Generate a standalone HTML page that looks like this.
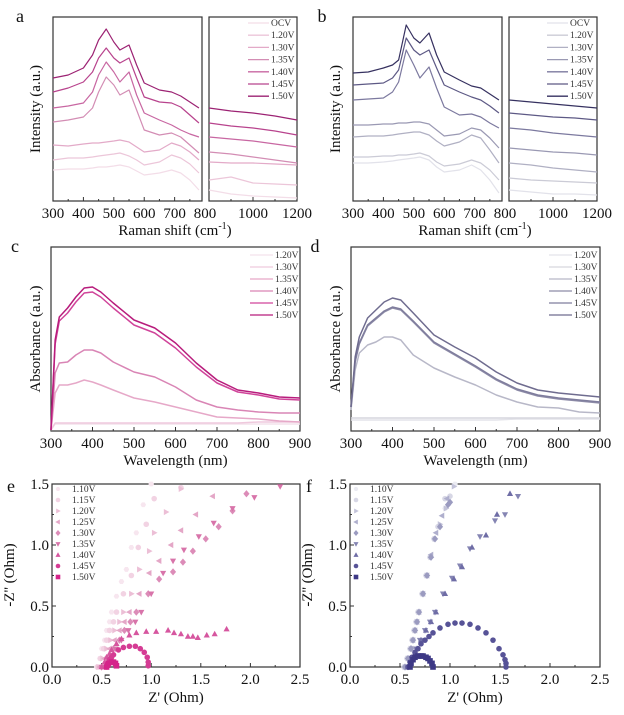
<!DOCTYPE html>
<html><head><meta charset="utf-8"><style>
html,body{margin:0;padding:0;background:#fff;}
svg, svg text{font-family:"Liberation Serif","DejaVu Serif",serif;}
</style></head><body>
<svg id="fig" width="624" height="710" viewBox="0 0 624 710" font-family="Liberation Serif, serif" xmlns="http://www.w3.org/2000/svg"></svg>
<script>
// ---------- DATA ----------
const ramanLabels = ["OCV","1.20V","1.30V","1.35V","1.40V","1.45V","1.50V"];
const ramanX = [300,350,400,430,450,475,500,520,550,575,600,650,690,720,750,780];
const ramanXR = [800,900,1000,1100,1200];
const ramanA = [
 [31,32,32,33,34,34,35,36,34,30,26,28,31,28,21,11],
 [41,43,43,44,45,46,47,48,45,41,36,39,46,43,37,28],
 [56,55,57,58,58,59,60,61,59,54,49,51,58,55,49,41],
 [79,81,84,93,109,124,116,106,111,91,71,66,68,64,56,48],
 [93,95,98,109,126,139,129,119,129,106,88,81,76,71,67,64],
 [109,113,119,129,143,153,143,138,143,123,104,99,98,94,86,78],
 [123,126,133,146,161,172,159,151,156,136,118,111,109,105,99,93]];
const ramanAR = [
 [11,7,5,4,3],[21,24,18,17,16],[39,38,38,37,36],[49,47,44,41,38],
 [64,62,60,57,54],[78,75,73,70,66],[93,90,88,85,81]];
const ramanB = [
 [38,38,39,40,41,42,43,44,41,34,29,31,36,31,21,8],
 [44,44,45,45,46,46,47,48,45,39,35,37,41,38,31,21],
 [64,65,65,66,67,68,69,69,66,60,55,59,66,63,51,38],
 [76,76,77,77,78,78,79,79,77,71,65,67,73,71,63,53],
 [101,102,103,109,119,151,136,123,134,113,94,86,87,84,78,73],
 [116,117,118,123,131,163,151,146,151,133,116,109,104,101,95,88],
 [128,129,133,136,141,176,163,158,168,146,129,121,115,113,107,101]];
const ramanBR = [
 [11,9,7,7,6],[23,21,20,19,18],[38,36,33,31,29],[53,51,49,48,46],
 [73,71,68,66,64],[88,86,84,83,81],[101,99,97,95,93]];
const uvLabels = ["1.20V","1.30V","1.35V","1.40V","1.45V","1.50V"];
const uvX = [300,310,320,340,360,380,400,420,450,500,550,600,650,700,750,800,850,900];
const uvC = [
 [1,7,7,7,7,7,7,7,7,7,7,7,7,7,7,7,7,7],
 [1,8,8,8,8,8,8,8,8,8,8,8,8,8,8,9,9,9],
 [1,38,46,46,48,51,49,46,41,33,29,24,19,14,13,12,10,9],
 [1,58,68,69,76,81,81,78,69,59,54,44,31,24,21,19,18,18],
 [1,87,110,118,129,138,139,134,123,106,98,83,64,48,39,36,32,31],
 [1,91,114,123,134,143,144,139,128,111,103,88,68,51,41,38,34,33]];
const uvD = [
 [11,11,11,11,11,11,11,11,11,11,11,11,11,12,12,12,12,12],
 [13,13,13,13,13,13,13,13,13,13,13,13,13,13,13,13,13,13],
 [21,61,78,86,89,94,94,91,76,63,54,46,36,29,24,23,19,18],
 [24,69,87,105,112,119,123,121,109,88,76,64,51,41,35,32,30,28],
 [24,70,88,106,113,120,124,122,110,89,77,65,52,42,36,33,31,29],
 [24,74,94,113,121,129,133,131,118,96,84,73,59,48,41,38,36,34]];
const eisLabels = ["1.10V","1.15V","1.20V","1.25V","1.30V","1.35V","1.40V","1.45V","1.50V"];
const eisE_re = [
 [0.45,0.48,0.5,0.53,0.55,0.58,0.6,0.65,0.7,0.75,0.8,0.85,0.92,1.0],
 [0.46,0.49,0.52,0.55,0.58,0.62,0.65,0.72,0.8,0.87,0.95,1.03,1.3],
 [0.47,0.51,0.55,0.59,0.63,0.68,0.72,0.8,0.88,0.98,1.03,1.15,1.3],
 [0.48,0.53,0.58,0.63,0.68,0.73,0.78,0.88,0.98,1.08,1.2,1.3,1.45,1.62],
 [0.5,0.56,0.62,0.68,0.73,0.79,0.85,0.97,1.08,1.22,1.32,1.42,1.55,1.68,1.82,1.96],
 [0.5,0.57,0.64,0.7,0.77,0.84,0.9,1.0,1.12,1.22,1.33,1.48,1.63,1.82,2.04,2.3],
 [0.5,0.53,0.55,0.58,0.6,0.65,0.7,0.78,0.85,0.95,1.05,1.17,1.23,1.3,1.37,1.42,1.47,1.56,1.64,1.76],
 [0.55,0.57,0.58,0.6,0.62,0.67,0.72,0.78,0.84,0.89,0.93,0.96,0.97,0.97],
 [0.55,0.56,0.57,0.6,0.62,0.64,0.65]];
const eisE_im = [
 [0,0.07,0.15,0.22,0.3,0.37,0.45,0.58,0.7,0.8,0.98,1.1,1.33,1.5],
 [0,0.07,0.15,0.22,0.3,0.37,0.45,0.6,0.75,0.98,1.17,1.38,1.47],
 [0,0.07,0.15,0.22,0.3,0.37,0.45,0.6,0.8,0.95,1.1,1.27,1.46],
 [0,0.07,0.15,0.22,0.3,0.37,0.45,0.6,0.77,0.87,1.0,1.12,1.25,1.4],
 [0,0.07,0.15,0.22,0.3,0.37,0.45,0.6,0.72,0.78,0.86,0.95,1.05,1.15,1.28,1.42],
 [0,0.07,0.15,0.22,0.3,0.37,0.45,0.6,0.77,0.87,0.96,1.07,1.18,1.3,1.39,1.48],
 [0,0.04,0.08,0.11,0.14,0.19,0.23,0.26,0.28,0.29,0.29,0.3,0.28,0.27,0.25,0.25,0.24,0.26,0.27,0.31],
 [0,0.03,0.06,0.08,0.1,0.14,0.16,0.17,0.17,0.15,0.12,0.08,0.04,0.01],
 [0,0.015,0.03,0.04,0.04,0.03,0.01]];
const eisF_re = [
 [0.54,0.57,0.6,0.62,0.64,0.66,0.68,0.72,0.76,0.8,0.84,0.88,0.95,1.05],
 [0.54,0.57,0.6,0.62,0.64,0.66,0.68,0.72,0.76,0.8,0.84,0.88,0.95,1.0],
 [0.55,0.58,0.61,0.63,0.65,0.67,0.69,0.73,0.77,0.81,0.85,0.9,0.96,1.04],
 [0.55,0.58,0.61,0.63,0.65,0.67,0.69,0.73,0.77,0.81,0.86,0.92,0.97],
 [0.55,0.58,0.61,0.63,0.65,0.67,0.69,0.73,0.77,0.81,0.85,0.9,0.98,1.0],
 [0.58,0.62,0.66,0.7,0.75,0.8,0.85,0.93,1.02,1.1,1.2,1.3,1.45,1.55,1.68],
 [0.58,0.62,0.67,0.71,0.76,0.81,0.86,0.95,1.04,1.12,1.22,1.36,1.47,1.6],
 [0.58,0.6,0.62,0.65,0.68,0.71,0.75,0.79,0.83,0.9,0.98,1.05,1.12,1.2,1.28,1.36,1.43,1.49,1.53,1.55,1.56,1.56],
 [0.6,0.61,0.63,0.65,0.68,0.71,0.73,0.76,0.78,0.8,0.82,0.83]];
const eisF_im = [
 [0,0.07,0.15,0.22,0.3,0.37,0.45,0.6,0.75,0.9,1.05,1.15,1.3,1.5],
 [0,0.07,0.15,0.22,0.3,0.37,0.45,0.6,0.75,0.9,1.05,1.15,1.38,1.4],
 [0,0.07,0.15,0.22,0.3,0.37,0.45,0.6,0.75,0.9,1.05,1.17,1.3,1.48],
 [0,0.07,0.15,0.22,0.3,0.37,0.45,0.6,0.75,0.92,1.1,1.24,1.38],
 [0,0.07,0.15,0.22,0.3,0.37,0.45,0.6,0.75,0.9,1.05,1.15,1.33,1.35],
 [0,0.07,0.15,0.22,0.3,0.37,0.45,0.6,0.73,0.83,0.97,1.07,1.2,1.25,1.4],
 [0,0.07,0.15,0.22,0.3,0.37,0.45,0.6,0.72,0.82,0.98,1.08,1.25,1.42],
 [0,0.04,0.08,0.12,0.15,0.19,0.22,0.25,0.28,0.32,0.35,0.36,0.36,0.35,0.32,0.28,0.22,0.15,0.1,0.06,0.03,0],
 [0,0.03,0.06,0.08,0.09,0.09,0.09,0.08,0.07,0.05,0.03,0]];

// ---------- STYLES ----------
const pinkRaman=["#f3dde8","#ecc6d9","#e3aac8","#d38db4","#c867a2","#b8438d","#9c2273"];
const purpRaman=["#e2e2ea","#cbcbd6","#b0b0c3","#9a99b3","#7c799f","#5d5985","#363160"];
const pinkUV=["#f4e2ec","#efc9dd","#e6a8c8","#d985b5","#d0449a","#b81c7c"];
const grayUV=["#e4e4ea","#d6d6de","#b8b8c8","#8e8ca8","#7f7d9d","#6f6c8f"];
const pinkEIS=["#f7e6ef","#f2d3e3","#ecbfd6","#e4a7c7","#dc8cb8","#d874aa","#d6569f","#d53c94","#d5248a"];
const purpEIS=["#ebebf2","#d7d7e5","#c3c3d9","#afafcd","#9b9bc0","#8585b3","#6f6da6","#575397","#3d3885"];
const shapes=["hex","circle","right","left","diamond","down","up","circle","square"];
const FONT="Liberation Serif, DejaVu Serif, serif";

const NS="http://www.w3.org/2000/svg";
const svg=document.getElementById("fig");
function el(tag,attrs,parent,text){const e=document.createElementNS(NS,tag);for(const k in attrs)e.setAttribute(k,attrs[k]);if(tag==="text")e.setAttribute("font-family",FONT);if(text!==undefined)e.textContent=text;(parent||svg).appendChild(e);return e;}
function lin(d0,d1,r0,r1){return v=>r0+(v-d0)/(d1-d0)*(r1-r0);}

function frame(x0,y0,x1,y1,name){
  const r=el("rect",{x:x0,y:y0,width:x1-x0,height:y1-y0,fill:"none",stroke:"#333","stroke-width":1.2});
  
  
}
function txt(x,y,s,size,anchor,name,rot){
  const t=el("text",{x:x,y:y,"font-size":size,"text-anchor":anchor||"middle",fill:"#111"},svg,s);
  if(rot)t.setAttribute("transform","rotate(-90 "+x+" "+y+")");
  
  
  return t;
}
function xticks(vals,sx,yb,labels,minor){
  vals.forEach((v,i)=>{
    el("line",{x1:sx(v),x2:sx(v),y1:yb,y2:yb-4,stroke:"#333","stroke-width":1});
    if(labels&&labels[i]!==null) txt(sx(v),yb+17,labels[i],15,"middle","x-tick-label");
  });
  (minor||[]).forEach(v=>el("line",{x1:sx(v),x2:sx(v),y1:yb,y2:yb-2,stroke:"#333","stroke-width":1}));
}
function poly(xs,ys,sx,sy,color,name,w){
  const p=el("polyline",{points:xs.map((v,i)=>sx(v)+","+sy(ys[i])).join(" "),fill:"none",stroke:color,"stroke-width":w||1.2,"stroke-linejoin":"round"});
  
  
}
function legendLines(labels,colors,lx0,lx1,ty,dy,name){
  labels.forEach((l,i)=>{
    const y=ty+i*dy;
    el("line",{x1:lx0,x2:lx1,y1:y,y2:y,stroke:colors[i],"stroke-width":1.3});
    const t=el("text",{x:lx1+2,y:y+3,"font-size":9.5,fill:"#333"},svg,l);
    
    
  });
}
function marker(shape,cx,cy,r,color,parent){
  let e;
  if(shape==="circle") e=el("circle",{cx:cx,cy:cy,r:r},parent);
  else if(shape==="square") e=el("rect",{x:cx-r,y:cy-r,width:2*r,height:2*r},parent);
  else{
    let pts;
    if(shape==="up") pts=[[0,-r*1.2],[r*1.1,r*0.8],[-r*1.1,r*0.8]];
    else if(shape==="down") pts=[[0,r*1.2],[r*1.1,-r*0.8],[-r*1.1,-r*0.8]];
    else if(shape==="right") pts=[[r*1.2,0],[-r*0.8,r*1.1],[-r*0.8,-r*1.1]];
    else if(shape==="left") pts=[[-r*1.2,0],[r*0.8,r*1.1],[r*0.8,-r*1.1]];
    else if(shape==="diamond") pts=[[0,-r*1.3],[r*1.1,0],[0,r*1.3],[-r*1.1,0]];
    else {pts=[];for(let k=0;k<6;k++){const a=Math.PI/3*k;pts.push([r*Math.cos(a),r*Math.sin(a)]);}}
    e=el("polygon",{points:pts.map(p=>(cx+p[0])+","+(cy+p[1])).join(" ")},parent);
  }
  e.setAttribute("fill",color);
  return e;
}

// ---------- RAMAN PANELS ----------
function raman(ox,data,dataR,colors,letter,leg){
  const L0=ox+53,L1=ox+202,R0=ox+209,R1=ox+297,T=17,B=201;
  const sxl=lin(300,790,L0,L1), sxr=lin(800,1200,R0,R1), sy=lin(0,184,B,T);
  frame(L0,T,L1,B,"raman-frame-low");frame(R0,T,R1,B,"raman-frame-high");
  xticks([300,400,500,600,700],sxl,B,["300","400","500","600","700"],[350,450,550,650,750]);
  xticks([1000,1200],sxr,B,["1000","1200"],[900,1100]);
  xticks([800],sxr,B,[null]);
  txt(ox+205,B+17,"800",15,"middle","x-tick-label");
  data.forEach((s,i)=>poly(ramanX,s,sxl,sy,colors[i],"raman-line-"+ramanLabels[i]));
  dataR.forEach((s,i)=>poly(ramanXR,s,sxr,sy,colors[i],"raman-line-high-"+ramanLabels[i]));
  legendLines(ramanLabels,colors,ox+leg,ox+leg+21,23,12.2,"legend-entry");
  txt(ox+40,109,"Intensity (a.u.)",15,"middle","y-axis-title",true);
  const t=txt(ox+175,235,"Raman shift (cm",15,"middle","x-axis-title");
  el("tspan",{"font-size":10,dy:-6},t,"-1");el("tspan",{dy:6},t,")");
  txt(letter==="a"?20:322,22,letter,18,"middle","panel-label-"+letter);
}
raman(0,ramanA,ramanAR,pinkRaman,"a",248);
raman(300,ramanB,ramanBR,purpRaman,"b",247);

// ---------- UV PANELS ----------
function uv(x0,x1,data,colors,letter,leg){
  const T=247,B=431;
  const sx=lin(300,900,x0,x1), sy=lin(0,184,B,T);
  frame(x0,T,x1,B,"uv-frame-"+letter);
  xticks([300,400,500,600,700,800,900],sx,B,["300","400","500","600","700","800","900"],[350,450,550,650,750,850]);
  data.forEach((s,i)=>poly(uvX,s,sx,sy,colors[i],"uv-line-"+uvLabels[i],1.5));
  legendLines(uvLabels,colors,leg,leg+23,255,12,"legend-entry");
  txt(x0-11,339,"Absorbance (a.u.)",15,"middle","y-axis-title",true);
  txt((x0+x1)/2,465,"Wavelength (nm)",15,"middle","x-axis-title");
  txt(x0-36,252,letter,18,"middle","panel-label-"+letter);
}
uv(51,300,uvC,pinkUV,"c",250);
uv(351,600,uvD,grayUV,"d",549);

// ---------- EIS PANELS ----------
function eis(x0,x1,re,im,colors,letter){
  const T=484,B=667;
  const sx=lin(0,2.5,x0,x1), sy=lin(0,1.5,B,T);
  frame(x0,T,x1,B,"eis-frame-"+letter);
  xticks([0,0.5,1,1.5,2,2.5],sx,B,["0.0","0.5","1.0","1.5","2.0","2.5"],[0.25,0.75,1.25,1.75,2.25]);
  [0,0.5,1,1.5].forEach(v=>{
    el("line",{x1:x0,x2:x0+4,y1:sy(v),y2:sy(v),stroke:"#333"});
    txt(x0-3,sy(v)+5,v.toFixed(1),15,"end","y-tick-label");
  });
  [0.25,0.75,1.25].forEach(v=>el("line",{x1:x0,x2:x0+2,y1:sy(v),y2:sy(v),stroke:"#333"}));
  re.forEach((s,i)=>{
    const g=el("g",{});
    
    
    s.forEach((v,j)=>marker(shapes[i],sx(v),sy(im[i][j]),2.8,colors[i],g));
  });
  eisLabels.forEach((l,i)=>{
    const y=489+i*11;
    marker(shapes[i],x0+6,y,2.3,colors[i]);
    const t=el("text",{x:x0+20,y:y+3,"font-size":9.5,fill:"#333"},svg,l);
    
    
  });
  txt(x0-38,575,"-Z'' (Ohm)",15,"middle","y-axis-title",true);
  txt((x0+x1)/2,702,"Z' (Ohm)",15,"middle","x-axis-title");
  txt(x0-41,492,letter,18,"middle","panel-label-"+letter);
}
eis(52,300,eisE_re,eisE_im,pinkEIS,"e");
eis(350,600,eisF_re,eisF_im,purpEIS,"f");
</script>
</body></html>
